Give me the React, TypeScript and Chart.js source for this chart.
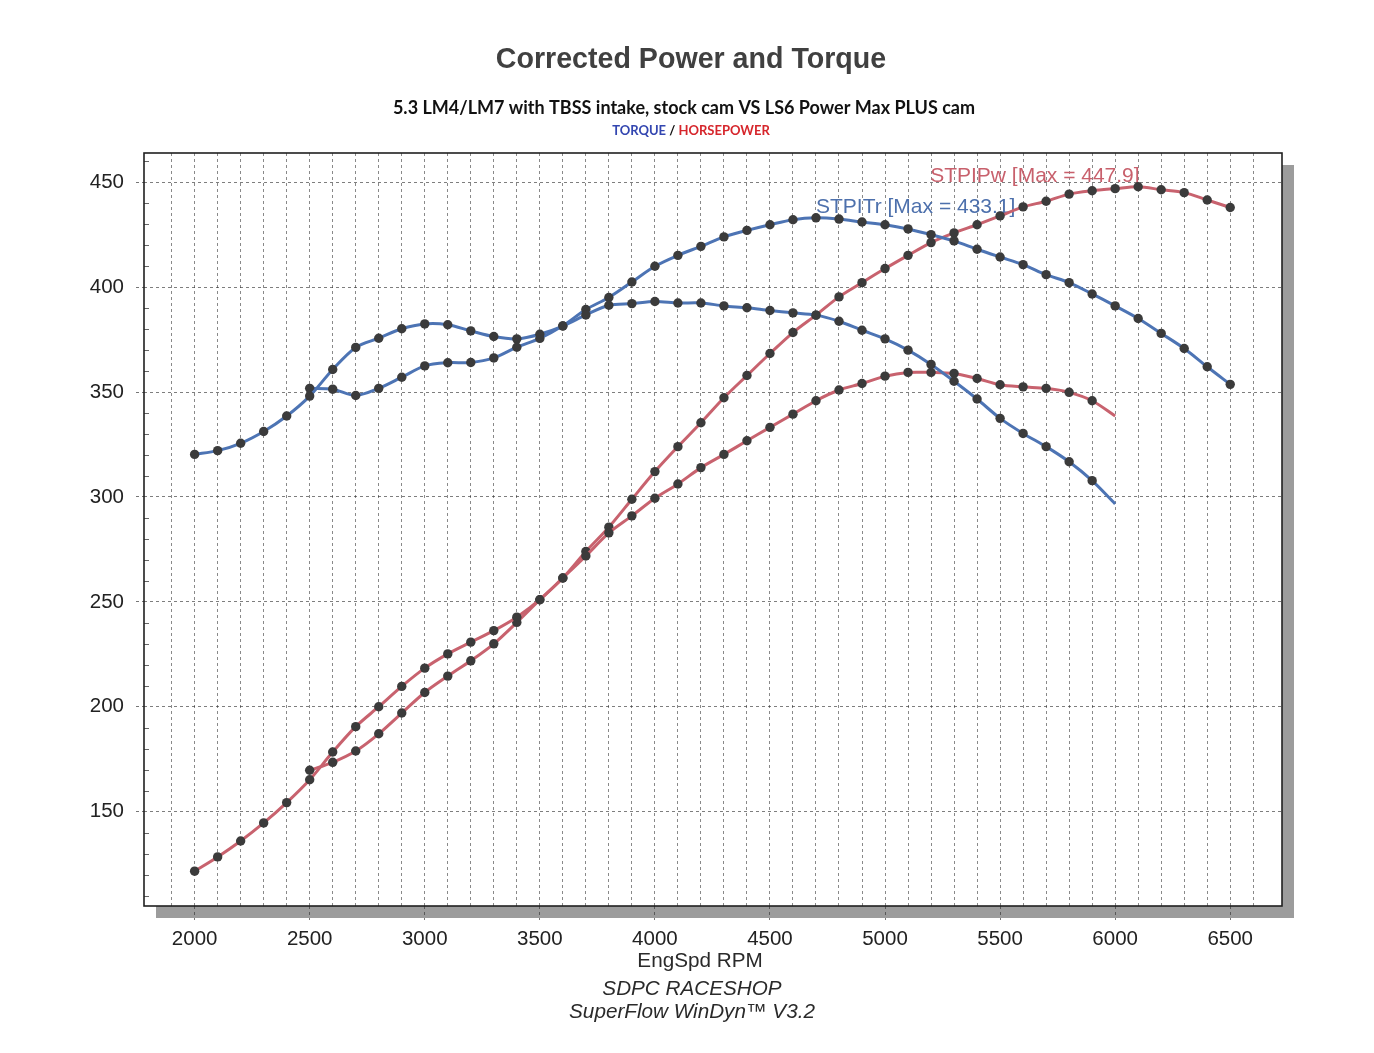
import React, { useEffect, useRef } from "react";
import { Chart, registerables } from "chart.js";

Chart.register(...registerables);

// ---------- data ----------
const rpmA = [2000, 2100, 2200, 2300, 2400, 2500, 2600, 2700, 2800, 2900, 3000, 3100, 3200, 3300, 3400, 3500, 3600, 3700, 3800, 3900, 4000, 4100, 4200, 4300, 4400, 4500, 4600, 4700, 4800, 4900, 5000, 5100, 5200, 5300, 5400, 5500, 5600, 5700, 5800, 5900, 6000];
const torqueA = [320.3, 322.1, 325.6, 331.2, 338.6, 348.1, 360.8, 371.3, 375.7, 380.2, 382.5, 382.1, 379.2, 376.5, 375.4, 377.6, 381.5, 386.8, 391.4, 392.2, 393.2, 392.5, 392.5, 391.1, 390.2, 388.9, 387.8, 386.7, 383.8, 379.5, 375.4, 370.0, 363.2, 355.2, 346.7, 337.5, 330.3, 324.0, 316.8, 307.8, 296.7];
const powerA = [121.6, 128.4, 136.0, 144.6, 154.3, 165.2, 178.4, 190.5, 200.0, 209.7, 218.4, 225.2, 230.8, 236.3, 242.7, 251.0, 261.4, 271.9, 282.9, 291.0, 299.4, 306.2, 314.0, 320.3, 326.8, 333.2, 339.5, 345.9, 351.0, 354.1, 357.6, 359.4, 359.4, 358.9, 356.5, 353.5, 352.5, 351.8, 349.9, 345.9, 338.6];

const rpmB = [2500, 2600, 2700, 2800, 2900, 3000, 3100, 3200, 3300, 3400, 3500, 3600, 3700, 3800, 3900, 4000, 4100, 4200, 4300, 4400, 4500, 4600, 4700, 4800, 4900, 5000, 5100, 5200, 5300, 5400, 5500, 5600, 5700, 5800, 5900, 6000, 6100, 6200, 6300, 6400, 6500];
const torqueB = [351.8, 351.4, 348.4, 351.8, 357.1, 362.5, 364.0, 364.1, 366.3, 371.4, 375.6, 381.6, 389.4, 395.1, 402.5, 410.0, 415.2, 419.5, 424.0, 427.1, 429.8, 432.2, 433.1, 432.5, 431.1, 429.8, 427.8, 425.1, 422.1, 418.1, 414.4, 410.8, 406.0, 402.2, 396.8, 391.1, 385.1, 378.0, 370.8, 362.1, 353.7];
const powerB = [169.7, 173.5, 178.9, 187.1, 197.0, 206.8, 214.6, 221.9, 230.0, 240.2, 251.0, 261.4, 274.0, 285.6, 298.9, 312.1, 324.0, 335.4, 347.3, 357.9, 368.4, 378.4, 386.7, 395.4, 402.2, 408.9, 415.2, 421.3, 425.9, 429.8, 434.0, 438.3, 441.0, 444.4, 446.0, 447.0, 447.9, 446.5, 445.1, 441.6, 438.0];

const xTickLabels = [2000, 2500, 3000, 3500, 4000, 4500, 5000, 5500, 6000, 6500];
const yTickLabels = [150, 200, 250, 300, 350, 400, 450];

const titleText = "Corrected Power and Torque";
const subtitleText = "5.3 LM4/LM7 with TBSS intake, stock cam VS LS6 Power Max PLUS cam";
const legendTorque = "TORQUE";
const legendSep = " / ";
const legendPower = "HORSEPOWER";
const xAxisTitle = "EngSpd RPM";
const footer1 = "SDPC RACESHOP";
const footer2 = "SuperFlow WinDyn\u2122 V3.2";
const torqueMaxLabel = "STPITr [Max = 433.1]";
const powerMaxLabel = "STPIPw [Max = 447.9]";

const BLUE = "#4d74b4";
const RED = "#c8626e";
const DOT = "#3b3b3b";
const SANS = "'Liberation Sans', Arial, sans-serif";

const toXY = (xs: number[], ys: number[]) => xs.map((x, i) => ({ x, y: ys[i] }));

const decorPlugin = {
  id: "decor",
  beforeDraw(chart: any) {
    const { ctx, chartArea: a } = chart;
    ctx.save();
    ctx.fillStyle = "#ffffff";
    ctx.fillRect(0, 0, chart.width, chart.height);
    // drop shadow
    ctx.fillStyle = "#9c9c9c";
    ctx.fillRect(a.left + 12, a.top + 12, a.right - a.left, a.bottom - a.top);
    ctx.fillStyle = "#ffffff";
    ctx.fillRect(a.left, a.top, a.right - a.left, a.bottom - a.top);

    // header texts
    ctx.textAlign = "center";
    ctx.textBaseline = "middle";
    ctx.fillStyle = "#404040";
    ctx.font = `bold 28.6px ${SANS}`;
    ctx.fillText(titleText, 691, 60);

    ctx.fillStyle = "#111111";
    ctx.font = "bold 18px Lato, 'Open Sans', sans-serif";
    ctx.fillText(subtitleText, 684, 108);

    ctx.font = "bold 13px Lato, 'Open Sans', sans-serif";
    const w1 = ctx.measureText(legendTorque).width;
    const w2 = ctx.measureText(legendSep).width;
    const w3 = ctx.measureText(legendPower).width;
    const x0 = 691 - (w1 + w2 + w3) / 2;
    ctx.textAlign = "left";
    ctx.fillStyle = "#3346b0";
    ctx.fillText(legendTorque, x0, 131);
    ctx.fillStyle = "#111111";
    ctx.fillText(legendSep, x0 + w1, 131);
    ctx.fillStyle = "#d6262c";
    ctx.fillText(legendPower, x0 + w1 + w2, 131);

    // footer texts
    ctx.textAlign = "center";
    ctx.fillStyle = "#2a2a2a";
    ctx.font = `20.7px ${SANS}`;
    ctx.fillText(xAxisTitle, 700, 961);
    ctx.font = `italic 20.7px ${SANS}`;
    ctx.fillText(footer1, 692, 989);
    ctx.fillText(footer2, 692, 1012);
    ctx.restore();
  },
  beforeDatasetsDraw(chart: any) {
    const { ctx, chartArea: a, scales } = chart;
    const y = scales.y;
    ctx.save();
    // minor ticks on left axis (inside)
    ctx.strokeStyle = "#666";
    ctx.lineWidth = 1;
    for (let v = 110; v <= 460; v += 10) {
      if (v % 50 === 0) continue;
      const py = Math.round(y.getPixelForValue(v)) + 0.5;
      ctx.beginPath();
      ctx.moveTo(a.left, py);
      ctx.lineTo(a.left + 5, py);
      ctx.stroke();
    }
    // annotation labels
    ctx.font = `21px ${SANS}`;
    ctx.textAlign = "left";
    ctx.textBaseline = "middle";
    ctx.fillStyle = "#c8606c";
    ctx.fillText(powerMaxLabel, scales.x.getPixelForValue(5196), y.getPixelForValue(452.9));
    ctx.fillStyle = "#4d70ac";
    ctx.fillText(torqueMaxLabel, scales.x.getPixelForValue(4700), y.getPixelForValue(438.1));
    // plot border
    ctx.strokeStyle = "#202020";
    ctx.lineWidth = 1.6;
    ctx.strokeRect(a.left, a.top, a.right - a.left, a.bottom - a.top);
    ctx.restore();
  },
};

const lineDataset = (label: string, xs: number[], ys: number[], color: string, hideLast: boolean) => ({
  label,
  data: toXY(xs, ys),
  borderColor: color,
  borderWidth: 3,
  tension: 0.3,
  pointRadius: (c: any) => (hideLast && c.dataIndex === xs.length - 1 ? 0 : 4.7),
  pointBackgroundColor: DOT,
  pointBorderColor: DOT,
  pointBorderWidth: 0,
  fill: false,
});

export default function App() {
  const canvasRef = useRef<HTMLCanvasElement | null>(null);

  useEffect(() => {
    document.body.style.margin = "0";
    const canvas = canvasRef.current;
    if (!canvas) return;
    const chart = new Chart(canvas, {
      type: "line",
      data: {
        datasets: [
          lineDataset("STPITr A", rpmA, torqueA, BLUE, true),
          lineDataset("STPITr B", rpmB, torqueB, BLUE, false),
          lineDataset("STPIPw A", rpmA, powerA, RED, true),
          lineDataset("STPIPw B", rpmB, powerB, RED, false),
        ],
      },
      options: {
        animation: false,
        responsive: false,
        devicePixelRatio: 1,
        layout: { padding: { left: 84, right: 92, top: 153, bottom: 107 } },
        plugins: {
          legend: { display: false },
          title: { display: false },
          tooltip: { enabled: false },
        },
        scales: {
          x: {
            type: "linear",
            min: 1780,
            max: 6725,
            afterFit: (s: any) => {
              s.height = 40;
            },
            border: { display: false, dash: [3, 3] },
            grid: {
              color: (c: any) => (c.tick && c.tick.value % 100 === 0 ? "rgba(40,40,40,0.55)" : "rgba(0,0,0,0)"),
              lineWidth: 1,
              drawTicks: true,
              tickLength: 14,
              tickColor: (c: any) => (c.tick && xTickLabels.includes(c.tick.value) ? "rgba(60,60,60,0.7)" : "rgba(0,0,0,0)"),
              tickBorderDash: [3, 3],
            },
            ticks: {
              stepSize: 100,
              autoSkip: false,
              maxRotation: 0,
              minRotation: 0,
              padding: 7,
              color: "#222",
              font: { family: SANS, size: 20.5 },
              callback: (v: any) => (xTickLabels.includes(Number(v)) ? String(v) : ""),
            },
          },
          y: {
            type: "linear",
            min: 105,
            max: 464,
            afterFit: (s: any) => {
              s.width = 60;
            },
            border: { display: false, dash: [3, 3] },
            grid: {
              color: (c: any) => (c.tick && yTickLabels.includes(c.tick.value) ? "rgba(40,40,40,0.6)" : "rgba(0,0,0,0)"),
              lineWidth: 1,
              drawTicks: true,
              tickLength: 8,
              tickColor: (c: any) => (c.tick && yTickLabels.includes(c.tick.value) ? "rgba(60,60,60,0.7)" : "rgba(0,0,0,0)"),
              tickBorderDash: [3, 3],
            },
            ticks: {
              stepSize: 10,
              autoSkip: false,
              padding: 12,
              color: "#222",
              font: { family: SANS, size: 20.5 },
              callback: (v: any) => (yTickLabels.includes(Number(v)) ? String(v) : ""),
            },
          },
        },
      },
      plugins: [decorPlugin],
    } as any);
    return () => chart.destroy();
  }, []);

  return (
    <div style={{ width: 1374, height: 1053, background: "#fff" }}>
      <canvas ref={canvasRef} width={1374} height={1053} style={{ display: "block", width: 1374, height: 1053 }} />
    </div>
  );
}
